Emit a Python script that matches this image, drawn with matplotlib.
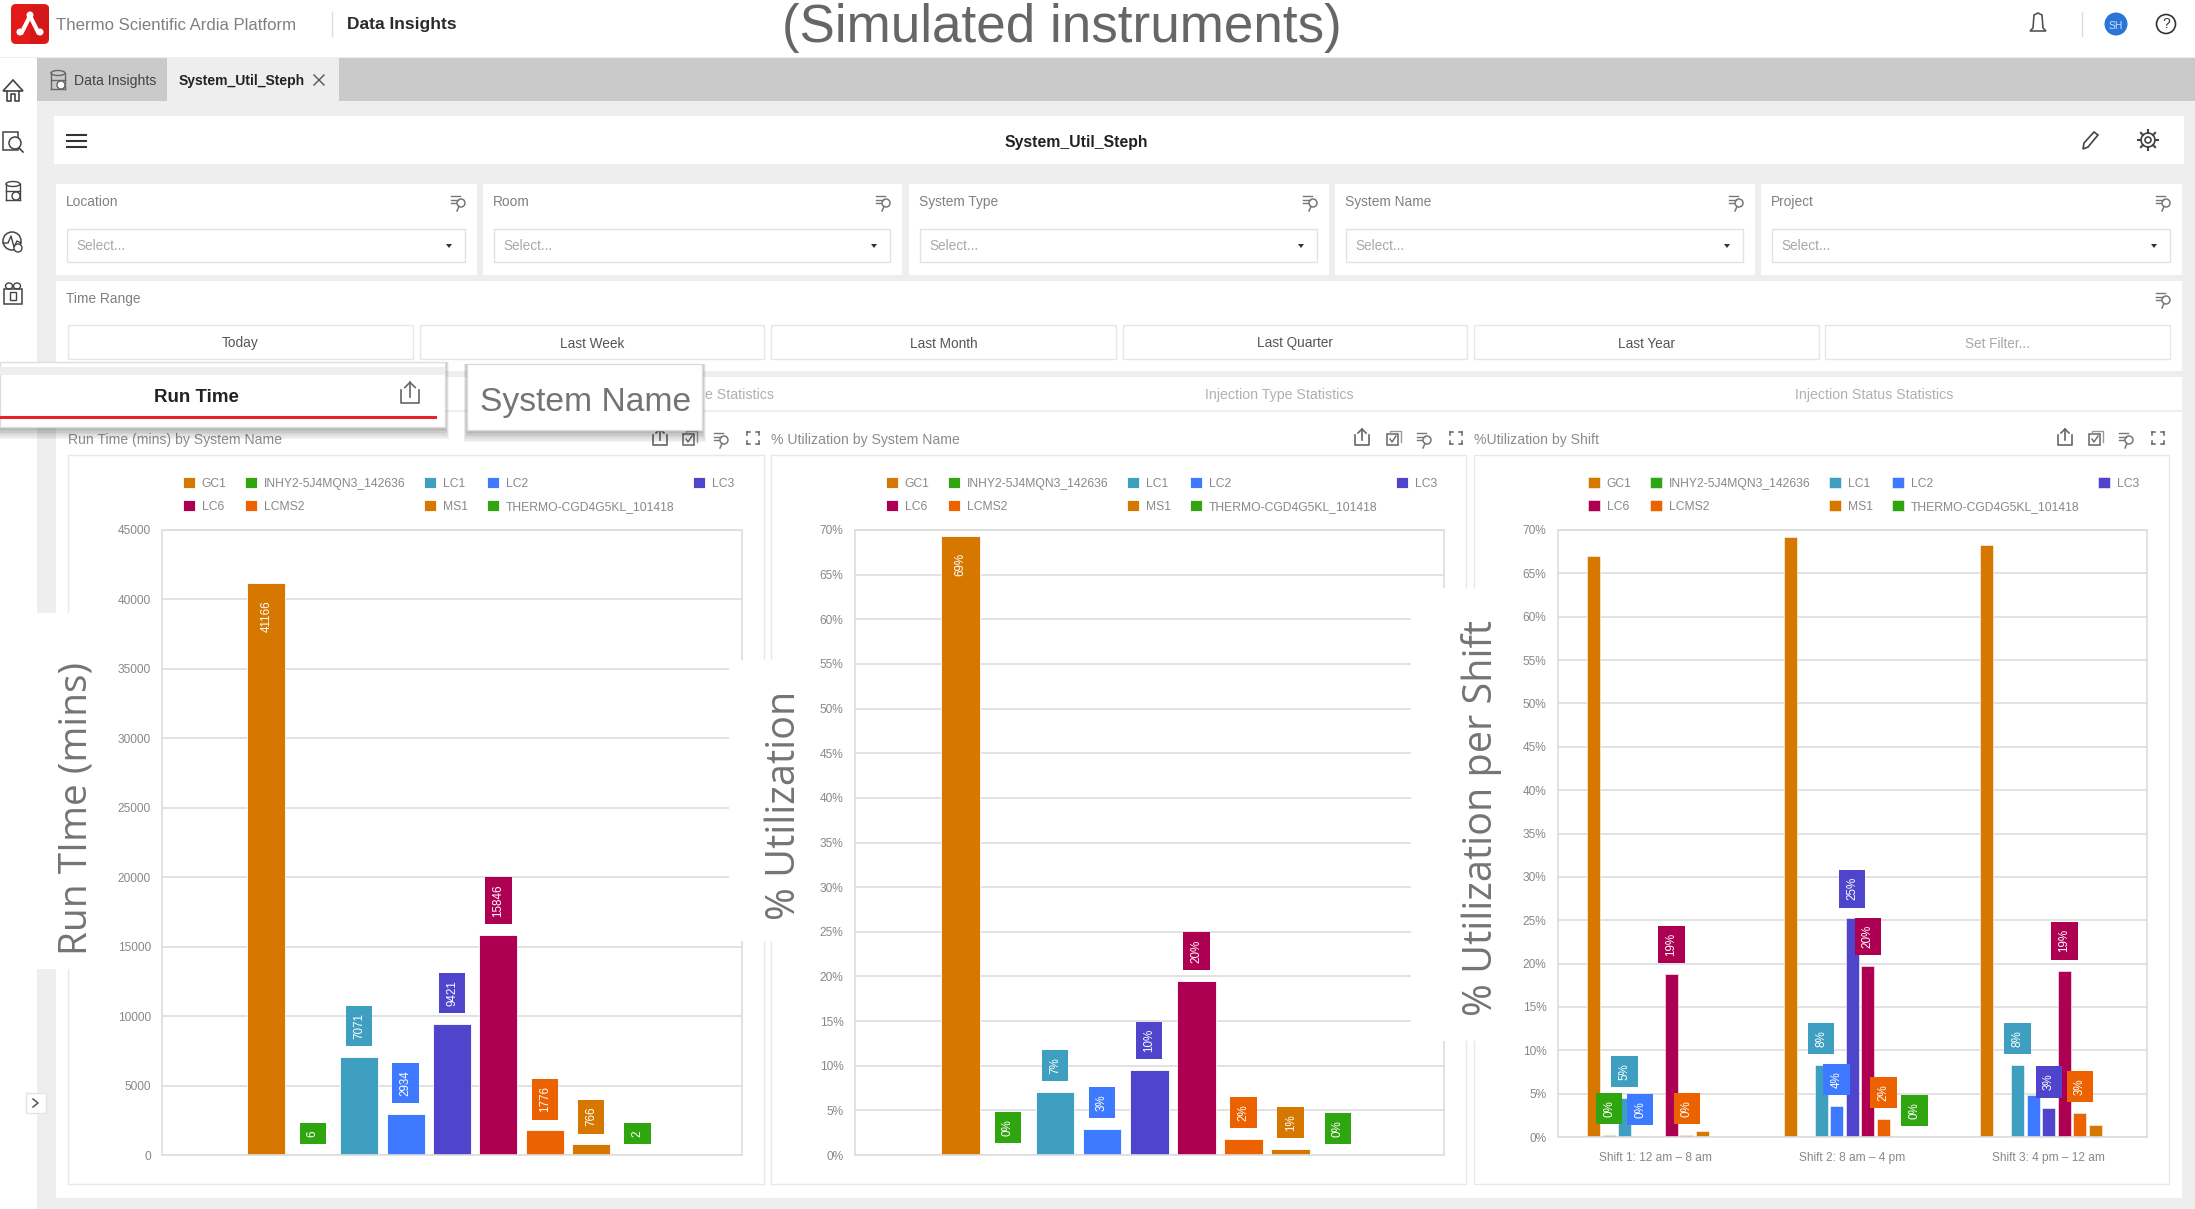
import numpy as np
import matplotlib
matplotlib.use('Agg')
import matplotlib.pyplot as plt
from matplotlib.patches import Rectangle, Circle, FancyBboxPatch, Polygon, Ellipse

W, H = 2195, 1209
plt.rcParams['font.family'] = ['Liberation Sans', 'DejaVu Sans']

# Chart data
systems = ['GC1', 'INHY2-5J4MQN3_142636', 'LC1', 'LC2', 'LC3', 'LC6', 'LCMS2', 'MS1', 'THERMO-CGD4G5KL_101418']
colors = ['#d67800', '#2fa60f', '#3f9fc1', '#3d7aff', '#4f45cd', '#ae0052', '#ec6100', '#d67800', '#2fa60f']

run_time = [41166, 6, 7071, 2934, 9421, 15846, 1776, 766, 2]
run_time_labels = ['41166', '6', '7071', '2934', '9421', '15846', '1776', '766', '2']
run_time_ticks = [0, 5000, 10000, 15000, 20000, 25000, 30000, 35000, 40000, 45000]

utilization = [69.3, 0.1, 7.1, 2.9, 9.5, 19.5, 1.8, 0.7, 0.0]
utilization_labels = ['69%', '0%', '7%', '3%', '10%', '20%', '2%', '1%', '0%']
percent_ticks = list(range(0, 75, 5))

shifts = ['Shift 1: 12 am – 8 am', 'Shift 2: 8 am – 4 pm', 'Shift 3: 4 pm – 12 am']
shift1 = [67.0, 0.2, 4.5, 0.1, 0.0, 18.8, 0.2, 0.7, 0.0]
shift2 = [69.2, 0.0, 8.3, 3.6, 25.2, 19.7, 2.1, 0.0, 0.0]
shift3 = [68.3, 0.0, 8.3, 4.9, 3.3, 19.2, 2.8, 1.4, 0.0]
shift1_labels = [None, '0%', '5%', '0%', None, '19%', '0%', None, None]
shift2_labels = [None, None, '8%', '4%', '25%', '20%', '2%', None, '0%']
shift3_labels = [None, None, '8%', None, '3%', '19%', '3%', None, None]

filter_names = ['Location', 'Room', 'System Type', 'System Name', 'Project']
time_ranges = ['Today', 'Last Week', 'Last Month', 'Last Quarter', 'Last Year', 'Set Filter...']

fig = plt.figure(figsize=(W / 100, H / 100), dpi=100, facecolor='#eeeeee')


def px_axes(x0, y0, x1, y1, zorder):
    return fig.add_axes([x0 / W, 1 - y1 / H, (x1 - x0) / W, (y1 - y0) / H], zorder=zorder)


bg = px_axes(0, 0, W, H, 0)
top = px_axes(0, 0, W, H, 5)
for a in (bg, top):
    a.set_xlim(0, W)
    a.set_ylim(H, 0)
    a.axis('off')
top.patch.set_alpha(0)


def box(a, x0, y0, x1, y1, fc='white', ec='none', lw=1, z=1):
    a.add_patch(Rectangle((x0, y0), x1 - x0, y1 - y0, fc=fc, ec=ec, lw=lw, zorder=z))


def shadow(a, x0, y0, x1, y1):
    for i in range(1, 8):
        a.add_patch(Rectangle((x0 - i / 2, y0), x1 - x0 + i, y1 - y0 + 1.6 * i + 1,
                              fc='black', ec='none', alpha=0.045, zorder=1))


def filter_icon(a, x, y, c='#777777'):
    for i, w in enumerate([9, 7, 5]):
        a.plot([x - 8, x - 8 + w], [y - 6 + i * 3.5] * 2, color=c, lw=1, zorder=3)
    a.add_patch(Circle((x + 2, y + 1), 4, fc='none', ec=c, lw=1.1, zorder=3))
    a.plot([x, x - 2], [y + 4.5, y + 9], color=c, lw=1.1, zorder=3)


def share_icon(a, x, y, c='#666666', s=1.0):
    a.plot([x - 7 * s, x - 7 * s, x + 7 * s, x + 7 * s], [y - 3 * s, y + 7 * s, y + 7 * s, y - 3 * s], color=c, lw=1.2, zorder=3)
    a.plot([x, x], [y + 2 * s, y - 9 * s], color=c, lw=1.2, zorder=3)
    a.plot([x - 4 * s, x, x + 4 * s], [y - 5 * s, y - 9 * s, y - 5 * s], color=c, lw=1.2, zorder=3)


def copy_icon(a, x, y, c='#666666'):
    a.add_patch(Rectangle((x - 7, y - 4), 11, 11, fc='white', ec=c, lw=1.1, zorder=3))
    a.plot([x - 4, x - 4, x + 7, x + 7], [y - 4, y - 7, y - 7, y + 4], color='#999999', lw=1, zorder=3)
    a.plot([x - 4, x - 2, x + 2], [y + 1, y + 4, y - 2], color=c, lw=1, zorder=3)


def expand_icon(a, x, y, c='#666666'):
    for sx in (-1, 1):
        for sy in (-1, 1):
            a.plot([x + sx * 6, x + sx * 6], [y + sy * 3, y + sy * 6], color=c, lw=1.1, zorder=3)
            a.plot([x + sx * 3, x + sx * 6], [y + sy * 6, y + sy * 6], color=c, lw=1.1, zorder=3)


def db_icon(a, x, y, c='#666666'):
    a.add_patch(Ellipse((x, y - 8), 14, 5, fc='none', ec=c, lw=1, zorder=3))
    a.plot([x - 7, x - 7], [y - 8, y + 8], color=c, lw=1, zorder=3)
    a.plot([x + 7, x + 7], [y - 8, y + 8], color=c, lw=1, zorder=3)
    a.plot([x - 7, x + 7], [y + 8, y + 8], color=c, lw=1, zorder=3)
    a.plot([x - 7, x + 7], [y - 1, y - 1], color=c, lw=1, zorder=3)
    a.add_patch(Circle((x + 3, y + 4), 4, fc='white', ec=c, lw=1, zorder=3))


# page frame
box(bg, 0, 0, W, 57)
box(bg, 0, 58, 37, H)
box(bg, 37, 58, W, 101, fc='#cacaca')
box(bg, 167, 58, 339, 101, fc='#eeeeee')

# header
bg.add_patch(FancyBboxPatch((13, 6), 34, 36, boxstyle='round,pad=2,rounding_size=5', fc='#e21a1a', ec='none', zorder=2))
bg.add_patch(Polygon([[30, 6], [49, 6], [49, 38], [40, 44], [30, 44]], fc='#c81616', ec='none', alpha=0.5, zorder=2))
bg.plot([22, 30, 38], [32, 16, 32], color='white', lw=3, zorder=3)
for lx, ly in [(30, 15), (20, 32), (40, 32)]:
    bg.add_patch(Circle((lx, ly), 3.5, fc='white', ec='none', zorder=3))
bg.text(56, 25, 'Thermo Scientific Ardia Platform', fontsize=12.1, color='#808080', va='center')
bg.plot([332, 332], [12, 36], color='#dddddd', lw=1)
bg.text(347, 25, 'Data Insights', fontsize=12.5, color='#2a2a2a', va='center', fontweight='bold')
bg.text(1062, 28, '(Simulated instruments)', fontsize=38.2, color='#666666', ha='center', va='center')
bg.plot([2082, 2082], [12, 36], color='#dddddd', lw=1)
bg.add_patch(Polygon([[2038, 13], [2042, 15], [2043, 28], [2046, 31], [2030, 31], [2033, 28], [2034, 15]],
                     fc='none', ec='#555555', lw=1.2, zorder=3))
bg.add_patch(Circle((2116, 24), 11.5, fc='#2a76d8', ec='none', zorder=3))
bg.text(2116, 26, 'SH', fontsize=7.5, color='#cfe0f7', ha='center', va='center', zorder=4)
bg.add_patch(Circle((2166, 24), 9.5, fc='none', ec='#333333', lw=1.2, zorder=3))
bg.text(2166, 24, '?', fontsize=10, color='#333333', ha='center', va='center', zorder=4)

# side bar icons
ic = '#444444'
bg.add_patch(Polygon([[13, 80], [3, 91], [23, 91]], fc='none', ec=ic, lw=1.2, zorder=3))
bg.plot([7, 7, 11, 11, 15, 15, 19, 19], [91, 101, 101, 94, 94, 101, 101, 91], color=ic, lw=1.2, zorder=3)
box(bg, 3, 132, 18, 150, fc='none', ec=ic, lw=1.1, z=3)
bg.add_patch(Circle((15, 143), 6, fc='white', ec=ic, lw=1.1, zorder=4))
bg.plot([19, 23], [148, 152], color=ic, lw=1.2, zorder=4)
db_icon(bg, 13, 192, c=ic)
bg.add_patch(Circle((12, 241), 9, fc='none', ec=ic, lw=1.1, zorder=3))
bg.plot([3, 8, 11, 14, 17, 21], [243, 243, 236, 247, 241, 243], color=ic, lw=1, zorder=3)
bg.add_patch(Circle((18, 248), 4, fc='white', ec=ic, lw=1, zorder=4))
box(bg, 4, 289, 22, 304, fc='none', ec=ic, lw=1.1, z=3)
box(bg, 10, 292, 16, 300, fc='none', ec=ic, lw=1, z=3)
bg.add_patch(Ellipse((9, 286), 7, 6, fc='none', ec=ic, lw=1, zorder=3))
bg.add_patch(Ellipse((17, 286), 7, 6, fc='none', ec=ic, lw=1, zorder=3))

# tabs
db_icon(bg, 58, 81)
bg.text(74, 81, 'Data Insights', fontsize=10.1, color='#444444', va='center')
bg.text(179, 81, 'System_Util_Steph', fontsize=10, color='#222222', va='center', fontweight='bold')
bg.plot([314, 324], [75, 85], color='#555555', lw=1)
bg.plot([314, 324], [85, 75], color='#555555', lw=1)

# title bar
box(bg, 54, 116, 2184, 164)
for hy in [134, 140, 146]:
    bg.plot([67, 86], [hy + 1, hy + 1], color='#333333', lw=1.5, zorder=3)
bg.text(1076, 142, 'System_Util_Steph', fontsize=11.3, color='#222222', ha='center', va='center', fontweight='bold', zorder=3)
bg.add_patch(Polygon([[2083, 149], [2084, 143], [2094, 132], [2098, 135], [2088, 147]], fc='none', ec='#444444', lw=1.2, zorder=3))
for ang in np.arange(0, 360, 45):
    dx, dy = np.cos(np.radians(ang)), np.sin(np.radians(ang))
    bg.plot([2148 + 7 * dx, 2148 + 10 * dx], [140 + 7 * dy, 140 + 10 * dy], color='#444444', lw=1.5, zorder=3)
bg.add_patch(Circle((2148, 140), 7, fc='none', ec='#444444', lw=1.2, zorder=3))
bg.add_patch(Circle((2148, 140), 3, fc='none', ec='#444444', lw=1.2, zorder=3))

# filter cards
card_x = [(56, 477), (483, 902), (909, 1329), (1335, 1755), (1761, 2182)]
for (x0, x1), name in zip(card_x, filter_names):
    box(bg, x0, 184, x1, 275)
    bg.text(x0 + 10, 202, name, fontsize=9.9, color='#808080', va='center', zorder=3)
    filter_icon(bg, x1 - 18, 202)
    box(bg, x0 + 11, 229, x1 - 12, 262, ec='#e2e2e2', z=2)
    bg.text(x0 + 20, 246, 'Select...', fontsize=9.8, color='#a8a8a8', va='center', zorder=3)
    bg.add_patch(Polygon([[x1 - 31, 244], [x1 - 25, 244], [x1 - 28, 248]], fc='#333333', ec='none', zorder=3))

# time range card
box(bg, 56, 281, 2182, 371)
bg.text(66, 299, 'Time Range', fontsize=9.9, color='#808080', va='center', zorder=3)
filter_icon(bg, 2164, 299)
range_x = [(68, 413), (420, 764), (771, 1116), (1123, 1467), (1474, 1819), (1825, 2170)]
for (x0, x1), name in zip(range_x, time_ranges):
    box(bg, x0, 325, x1, 359, ec='#e6e6e6', z=2)
    c = '#a8a8a8' if name == 'Set Filter...' else '#555555'
    bg.text((x0 + x1) / 2, 343.5, name, fontsize=9.8, color=c, ha='center', va='center', zorder=3)

# stats tabs and main card
box(bg, 56, 377, 2182, 410)
box(bg, 56, 412, 2182, 1198)
for tx, name in [(705, 'e Statistics'), (1279, 'Injection Type Statistics'), (1874, 'Injection Status Statistics')]:
    bg.text(tx, 395, name, fontsize=10.2, color='#b0b0b0', ha='left' if tx == 705 else 'center', va='center', zorder=3)

# panels
panels = [(68, 764), (771, 1466), (1474, 2169)]
titles = ['Run Time (mins) by System Name', '% Utilization by System Name', '%Utilization by Shift']
icon_x = [(660, 690, 722, 753), (1362, 1394, 1425, 1456), (2065, 2096, 2127, 2158)]
for (x0, x1), t, ix in zip(panels, titles, icon_x):
    box(bg, x0, 455, x1, 1184, ec='#e8e8e8', z=2)
    bg.text(x0, 440, t, fontsize=10.1, color='#8c8c8c', va='center', zorder=3)
    share_icon(bg, ix[0], 438)
    copy_icon(bg, ix[1], 438)
    filter_icon(bg, ix[2], 439)
    expand_icon(bg, ix[3], 438)
box(bg, 26, 1093, 46, 1113, ec='#e4e4e4', z=3)
bg.plot([33, 38, 33], [1099, 1103, 1107], color='#555555', lw=1.1, zorder=4)


def style_axes(ax):
    ax.patch.set_alpha(0)
    ax.set_axisbelow(True)
    ax.grid(axis='y', color='#e2e2e2', lw=1.4)
    ax.tick_params(axis='y', length=0, pad=8, labelsize=8.6, labelcolor='#888888')
    ax.tick_params(axis='x', length=0)
    for s in ax.spines.values():
        s.set_color('#dddddd')
        s.set_linewidth(1.2)


def add_label(ax, x, y, text, color, inside=False):
    off, va = (-12, 'top') if inside else (13, 'bottom')
    ax.annotate(text, (x, y), xytext=(0, off), textcoords='offset points', rotation=90,
                ha='center', va=va, fontsize=8.4, color='white', zorder=10,
                bbox=dict(boxstyle='square,pad=0.62', fc=color, ec='none'))


def add_legend(ax, handles, left):
    # matplotlib fills columns first, so reorder to read row by row
    order = [0, 5, 1, 6, 2, 7, 3, 8, 4]
    ax.legend([handles[i] for i in order], [systems[i] for i in order], ncols=5, frameon=False,
              loc='upper left', bbox_to_anchor=(left / W, 1 - 477.5 / H), bbox_transform=fig.transFigure,
              borderaxespad=0, borderpad=0, fontsize=8.7, labelcolor='#888888', handlelength=1,
              handleheight=1, handletextpad=0.55, columnspacing=1.55, labelspacing=0.85)


def system_chart(box_px, values, labels, ticks, ticklabels, ymax, left):
    ax = px_axes(*box_px, 2)
    style_axes(ax)
    xs = np.arange(len(values))
    bars = ax.bar(xs, values, width=0.82, color=colors, edgecolor='#ffffff', linewidth=0.6)
    for x, v, t, c in zip(xs, values, labels, colors):
        add_label(ax, x, v, t, c, inside=v / ymax > 0.9)
    ax.set_xlim(4 - 6.25, 4 + 6.25)
    ax.set_ylim(0, ymax)
    ax.set_xticks([])
    ax.set_yticks(ticks)
    ax.set_yticklabels(ticklabels)
    add_legend(ax, list(bars), left)
    return ax


system_chart((162, 530, 742, 1155), run_time, run_time_labels, run_time_ticks,
             [str(t) for t in run_time_ticks], 45000, 183)
system_chart((854.5, 530, 1444, 1155), utilization, utilization_labels, percent_ticks,
             [f'{t}%' for t in percent_ticks], 70, 886)

# shift chart
ax3 = px_axes(1557.5, 530, 2147, 1137, 2)
style_axes(ax3)
step = 0.079
handles = []
for g, (vals, labs) in enumerate(zip([shift1, shift2, shift3], [shift1_labels, shift2_labels, shift3_labels])):
    xs = g + (np.arange(9) - 4) * step
    bars = ax3.bar(xs, vals, width=0.067, color=colors, edgecolor='#ffffff', linewidth=0.4)
    handles = list(bars)
    for x, v, t, c in zip(xs, vals, labs, colors):
        if t is not None:
            add_label(ax3, x, v, t, c)
ax3.set_xlim(-0.5, 2.5)
ax3.set_ylim(0, 70)
ax3.set_yticks(percent_ticks)
ax3.set_yticklabels([f'{t}%' for t in percent_ticks])
ax3.set_xticks(range(3))
ax3.set_xticklabels(shifts, fontsize=8.6, color='#888888')
ax3.tick_params(axis='x', pad=11)
add_legend(ax3, handles, 1588)

# call-outs pasted on top of the screenshot
box(top, 36, 613, 95, 969)
box(top, 729, 660, 803, 941)
box(top, 1411, 588, 1500, 1041)
top.text(77, 808, 'Run TIme (mins)', rotation=90, fontsize=28, family='Open Sans', color='#747474', ha='center', va='center', zorder=3)
top.text(785, 805, '% Utilization', rotation=90, fontsize=28.5, family='Open Sans', color='#747474', ha='center', va='center', zorder=3)
top.text(1482, 818, '% Utilization per Shift', rotation=90, fontsize=28.5, family='Open Sans', color='#747474', ha='center', va='center', zorder=3)

shadow(top, -10, 362, 445, 427)
box(top, 0, 362, 445, 427, ec='#dddddd', z=2)
box(top, 0, 367, 445, 375, fc='#eeeeee', z=2)
top.plot([0, 435], [417, 417], color='#e5232a', lw=2.2, zorder=3)
top.text(196, 397, 'Run Time', fontsize=13.5, fontweight='bold', color='#222222', ha='center', va='center', zorder=3)
share_icon(top, 410, 394, s=1.3)

shadow(top, 467, 364, 702, 430)
box(top, 467, 364, 702, 430, ec='#dddddd', z=2)
top.text(586, 402, 'System Name', fontsize=24.2, color='#747474', ha='center', va='center', zorder=3)

fig.savefig('out.png', dpi=100, facecolor=fig.get_facecolor())
